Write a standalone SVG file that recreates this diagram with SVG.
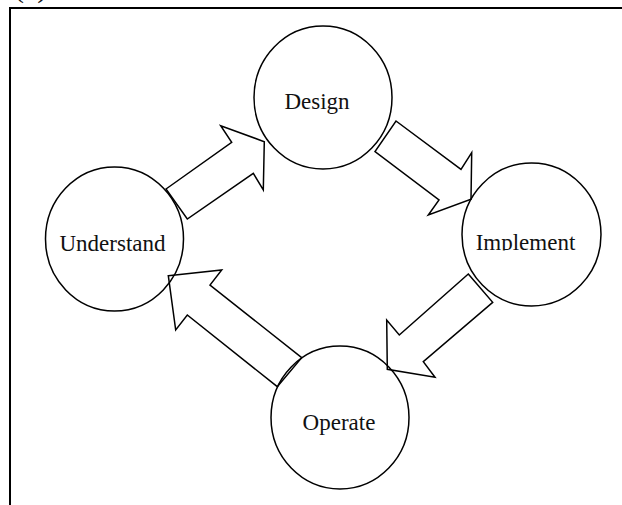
<svg xmlns="http://www.w3.org/2000/svg" width="622" height="505" viewBox="0 0 622 505">
<style>
.frame{stroke:#000;stroke-width:2;fill:none}
.arrow{fill:#fff;stroke:#000;stroke-width:1.5;stroke-linejoin:miter}
.node{fill:none;stroke:#000;stroke-width:1.5}
.lbl{font-family:"Liberation Serif","Times New Roman",serif;font-size:23px;fill:#111;text-anchor:middle}
</style>
<defs>
<clipPath id="clipImpl"><rect x="450" y="150" width="170" height="100.5"/></clipPath>
</defs>
<rect width="622" height="505" fill="#fff"/>
<g id="frame">
<path class="frame" d="M10,505 V8 H622"/>
<text x="14" y="-3" style="font-family:'Liberation Serif',serif;font-size:30px;fill:#111">(a)</text>
</g>
<g id="connectors">
<polygon class="arrow" points="166,189 231.7,142.3 220.7,125.7 264.3,141.7 263.3,190 253.3,173.3 187.3,219"/>
<polygon class="arrow" points="396,121 461,169.3 471.7,152.7 471,199.3 428.3,215 439,200 375,151.7"/>
<polygon class="arrow" points="468.3,274 492.7,302.3 423.3,361.7 435,377.3 387.3,369.3 386.7,320 399.3,335"/>
<polygon class="arrow" points="168.3,275.7 221.7,270 210,285 301.7,357.7 277.3,386.7 187.3,315 175.7,330"/>
</g>
<g id="design">
<ellipse class="node" cx="323" cy="97.5" rx="69" ry="71.5"/>
<text class="lbl" x="317" y="109">Design</text>
</g>
<g id="understand">
<ellipse class="node" cx="114.5" cy="239" rx="69" ry="72"/>
<text class="lbl" x="112.5" y="251">Understand</text>
</g>
<g id="implement">
<ellipse class="node" cx="531.5" cy="234.5" rx="69.5" ry="71.5"/>
<text class="lbl" x="525.5" y="250" clip-path="url(#clipImpl)">Implement</text>
</g>
<g id="operate">
<ellipse class="node" cx="340" cy="417.5" rx="69" ry="71.5"/>
<text class="lbl" x="339" y="430">Operate</text>
</g>
</svg>
